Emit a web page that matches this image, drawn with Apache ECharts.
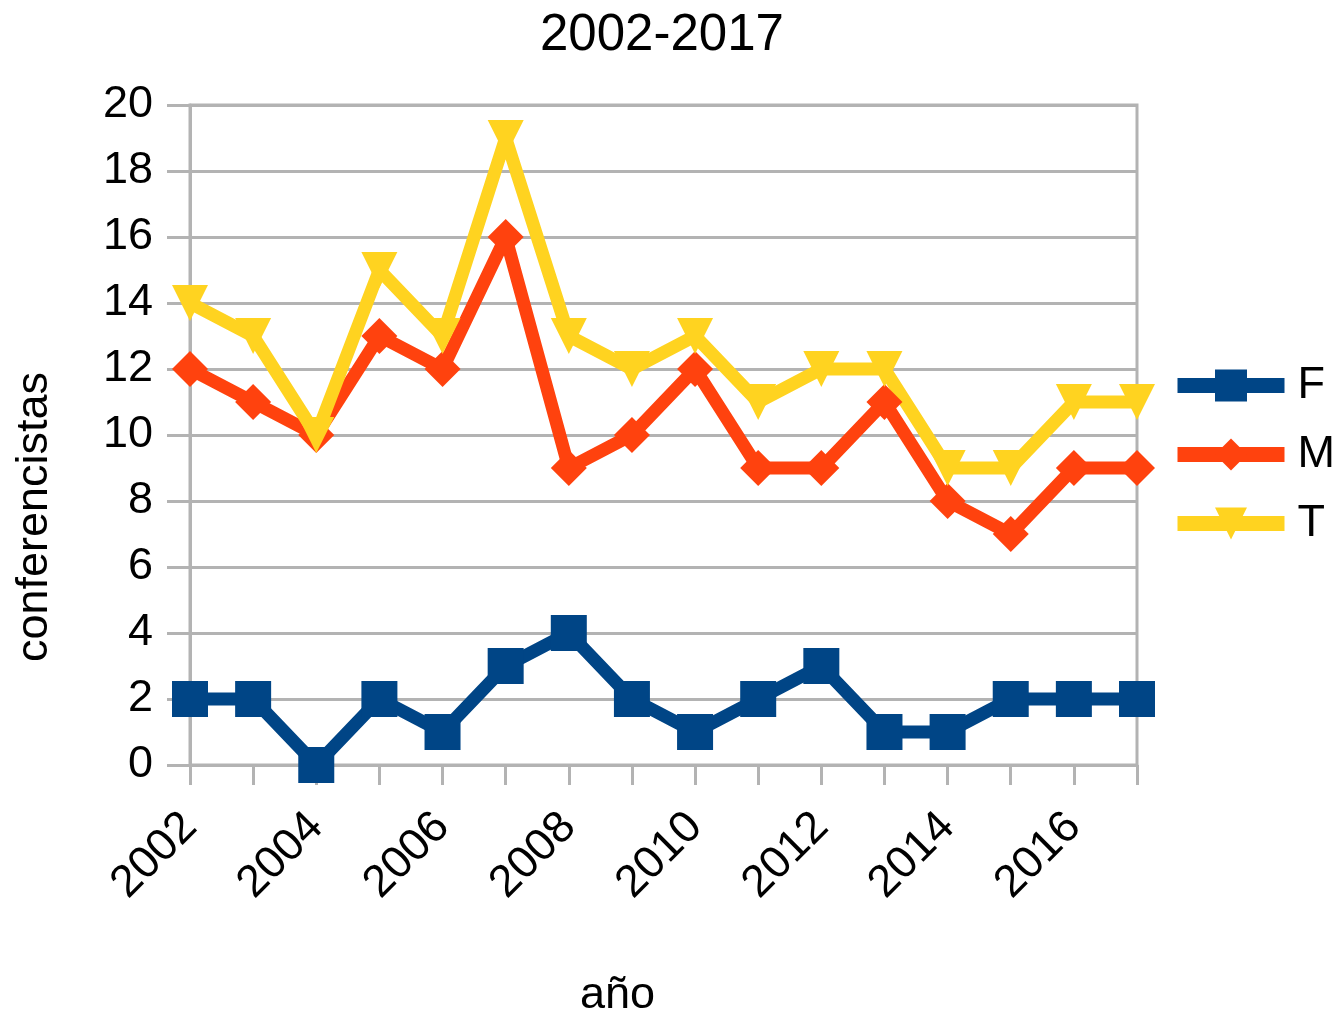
<!DOCTYPE html>
<html>
<head>
<meta charset="utf-8">
<script src="https://cdn.jsdelivr.net/npm/echarts@6/dist/echarts.min.js"></script>
<style>
  html, body { margin: 0; padding: 0; background: #fff; }
  #chart { width: 1339px; height: 1013px; }
</style>
</head>
<body>
<div id="chart"></div>
<script>
// years on the category axis
var years = ['2002', '2003', '2004', '2005', '2006', '2007', '2008', '2009',
             '2010', '2011', '2012', '2013', '2014', '2015', '2016', '2017'];
// conferencistas por año
var F = [2, 2, 0, 2, 1, 3, 4, 2, 1, 2, 3, 1, 1, 2, 2, 2];
var M = [12, 11, 10, 13, 12, 16, 9, 10, 12, 9, 9, 11, 8, 7, 9, 9];
var T = [14, 13, 10, 15, 13, 19, 13, 12, 13, 11, 12, 12, 9, 9, 11, 11];

var gray = '#b3b3b3';
var font = 'Liberation Sans, Arial, sans-serif';

var chart = echarts.init(document.getElementById('chart'));

function mkSeries(name, data, color, symbol, rotate) {
    return {
        name: name,
        type: 'line',
        data: data,
        symbol: symbol,
        symbolSize: 36,
        symbolRotate: rotate,
        showAllSymbol: true,
        animation: false,
        lineStyle: { color: color, width: 13 },
        itemStyle: { color: color }
    };
}

var option = {
    animation: false,
    textStyle: { fontFamily: font },
    title: {
        text: '2002-2017',
        left: 535,
        top: 5,
        textStyle: { fontFamily: font, fontSize: 51, fontWeight: 'normal', color: '#000' }
    },
    legend: {
        orient: 'vertical',
        left: 1165,
        top: 358,
        itemWidth: 107,
        itemHeight: 40,
        itemGap: 24,
        lineStyle: { width: 15 },
        textStyle: { fontFamily: font, fontSize: 45, color: '#000', padding: [0, 0, 0, 8] },
        data: ['F', 'M', 'T']
    },
    grid: {
        left: 190,
        right: 202,
        top: 105,
        bottom: 248,
        show: true,
        borderColor: gray,
        borderWidth: 3,
        containLabel: false,
        outerBoundsMode: 'none'
    },
    xAxis: {
        type: 'category',
        data: years,
        boundaryGap: false,
        name: 'año',
        nameLocation: 'middle',
        nameGap: 208,
        nameTextStyle: { fontFamily: font, fontSize: 45, color: '#000', padding: [0, 92, 0, 0] },
        axisLine: { lineStyle: { color: gray, width: 3 } },
        axisTick: { show: true, interval: 0, length: 20, lineStyle: { color: gray, width: 3 } },
        axisLabel: { interval: 1, rotate: 45, margin: 55, fontSize: 45, color: '#000', fontFamily: font },
        splitLine: { show: false }
    },
    yAxis: {
        type: 'value',
        min: 0,
        max: 20,
        interval: 2,
        name: 'conferencistas',
        nameLocation: 'middle',
        nameGap: 133,
        nameTextStyle: { fontFamily: font, fontSize: 45, color: '#000', padding: [0, 164, 0, 0] },
        axisLine: { show: true, lineStyle: { color: gray, width: 3 } },
        axisTick: { show: true, length: 23, lineStyle: { color: gray, width: 3 } },
        axisLabel: { margin: 37, fontSize: 45, color: '#000', fontFamily: font },
        splitLine: { show: true, lineStyle: { color: gray, width: 3 } }
    },
    series: [
        mkSeries('F', F, '#004586', 'rect', 0),
        mkSeries('M', M, '#ff420e', 'diamond', 0),
        mkSeries('T', T, '#ffd320', 'triangle', 180)
    ]
};

chart.setOption(option);
</script>
</body>
</html>
